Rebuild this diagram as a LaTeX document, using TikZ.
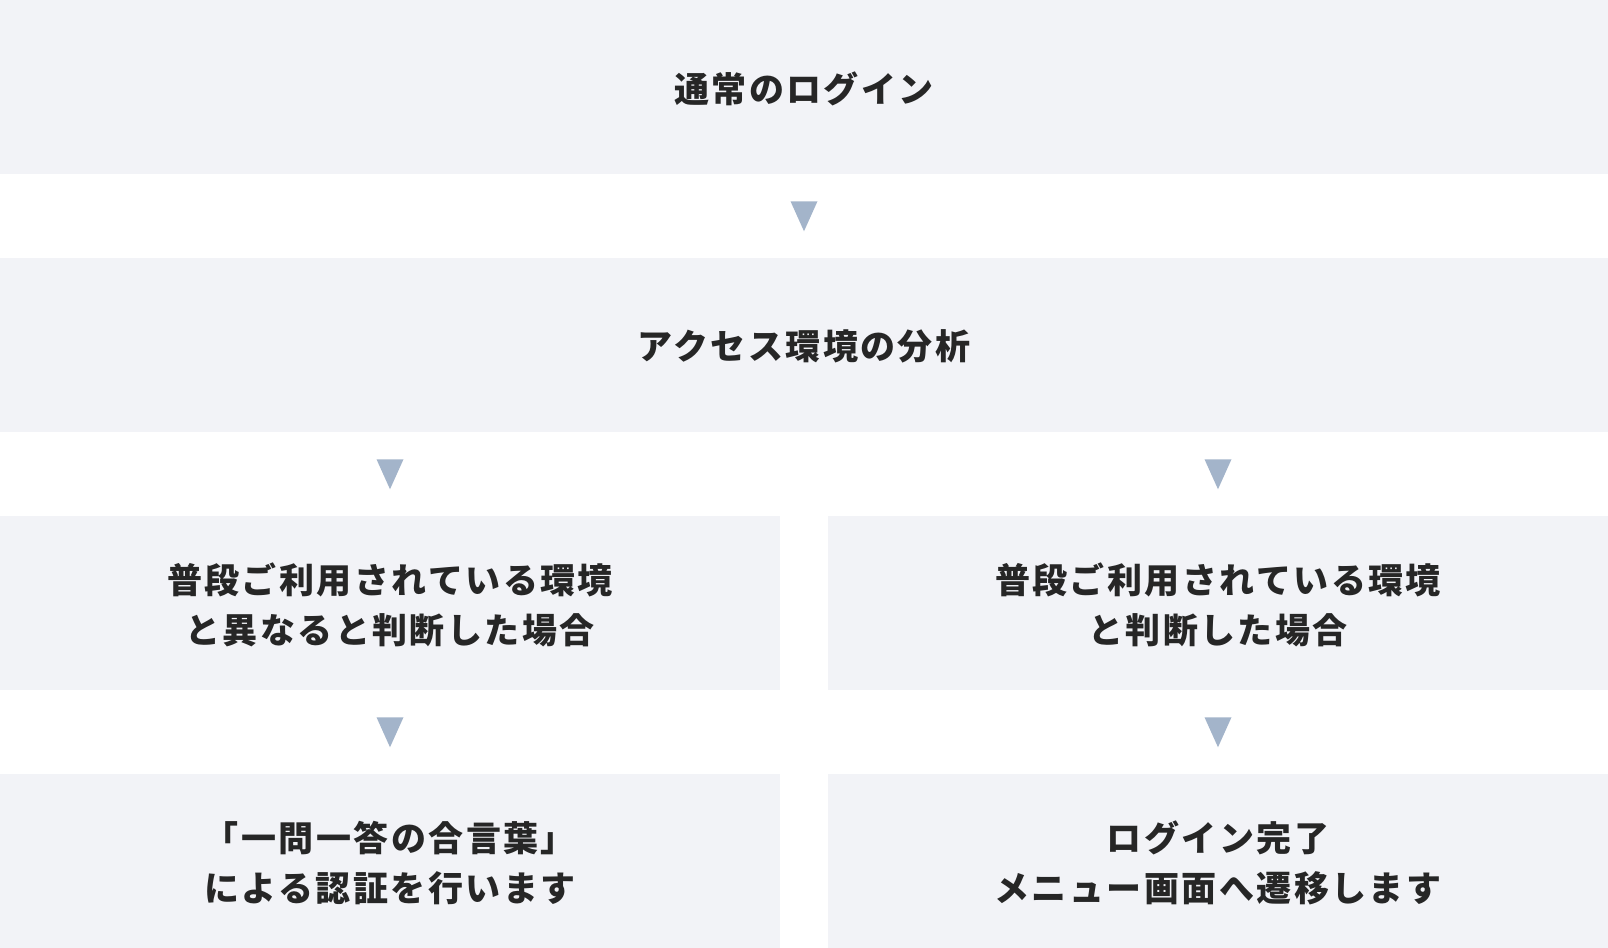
\documentclass[tikz,border=0pt]{standalone}
\usepackage{fontspec}
\setmainfont{Noto Sans CJK JP}[LetterSpace=7]
\usepackage{xcolor}
\usepackage{tikz}
\usetikzlibrary{shapes.geometric}
\definecolor{fondo}{HTML}{F2F3F7}
\definecolor{flecha}{HTML}{A3B4CA}
\definecolor{texto}{HTML}{262626}

\begin{document}
\begin{tikzpicture}[x=0.5pt, y=-0.5pt,
    caja/.style={rectangle, fill=fondo, text=texto, align=center, inner sep=0pt, text depth=0pt,
      minimum height=87pt, font=\fontsize{17.5pt}{25pt}\selectfont\bfseries},
    ancha/.style={caja, minimum width=804pt},
    media/.style={caja, minimum width=390pt},
    tri/.style={isosceles triangle, isosceles triangle stretches, shape border rotate=270,
      fill=flecha, inner sep=0pt, minimum height=15pt, minimum width=13.5pt, yshift=3pt}]

        \useasboundingbox (0,0) rectangle (1608,948);

        % Cajas
        \node[ancha] (login) at (804,87) {通常のログイン};
        \node[ancha] (analisis) at (804,345) {アクセス環境の分析};
        \node[media] (distinto) at (390,603) {普段ご利用されている環境\\と異なると判断した場合};
        \node[media] (habitual) at (1218,603) {普段ご利用されている環境\\と判断した場合};
        \node[media] (aikotoba) at (390,861) {「一問一答の合言葉」\\による認証を行います};
        \node[media] (completo) at (1218,861) {ログイン完了\\メニュー画面へ遷移します};

        % Flechas
        \path (login) -- node[tri] (f1) {} (analisis);
        \path (distinto |- analisis.south) -- node[tri] (f2) {} (distinto.north);
        \path (habitual |- analisis.south) -- node[tri] (f3) {} (habitual.north);
        \path (distinto) -- node[tri] (f4) {} (aikotoba);
        \path (habitual) -- node[tri] (f5) {} (completo);

    \end{tikzpicture}
\end{document}
